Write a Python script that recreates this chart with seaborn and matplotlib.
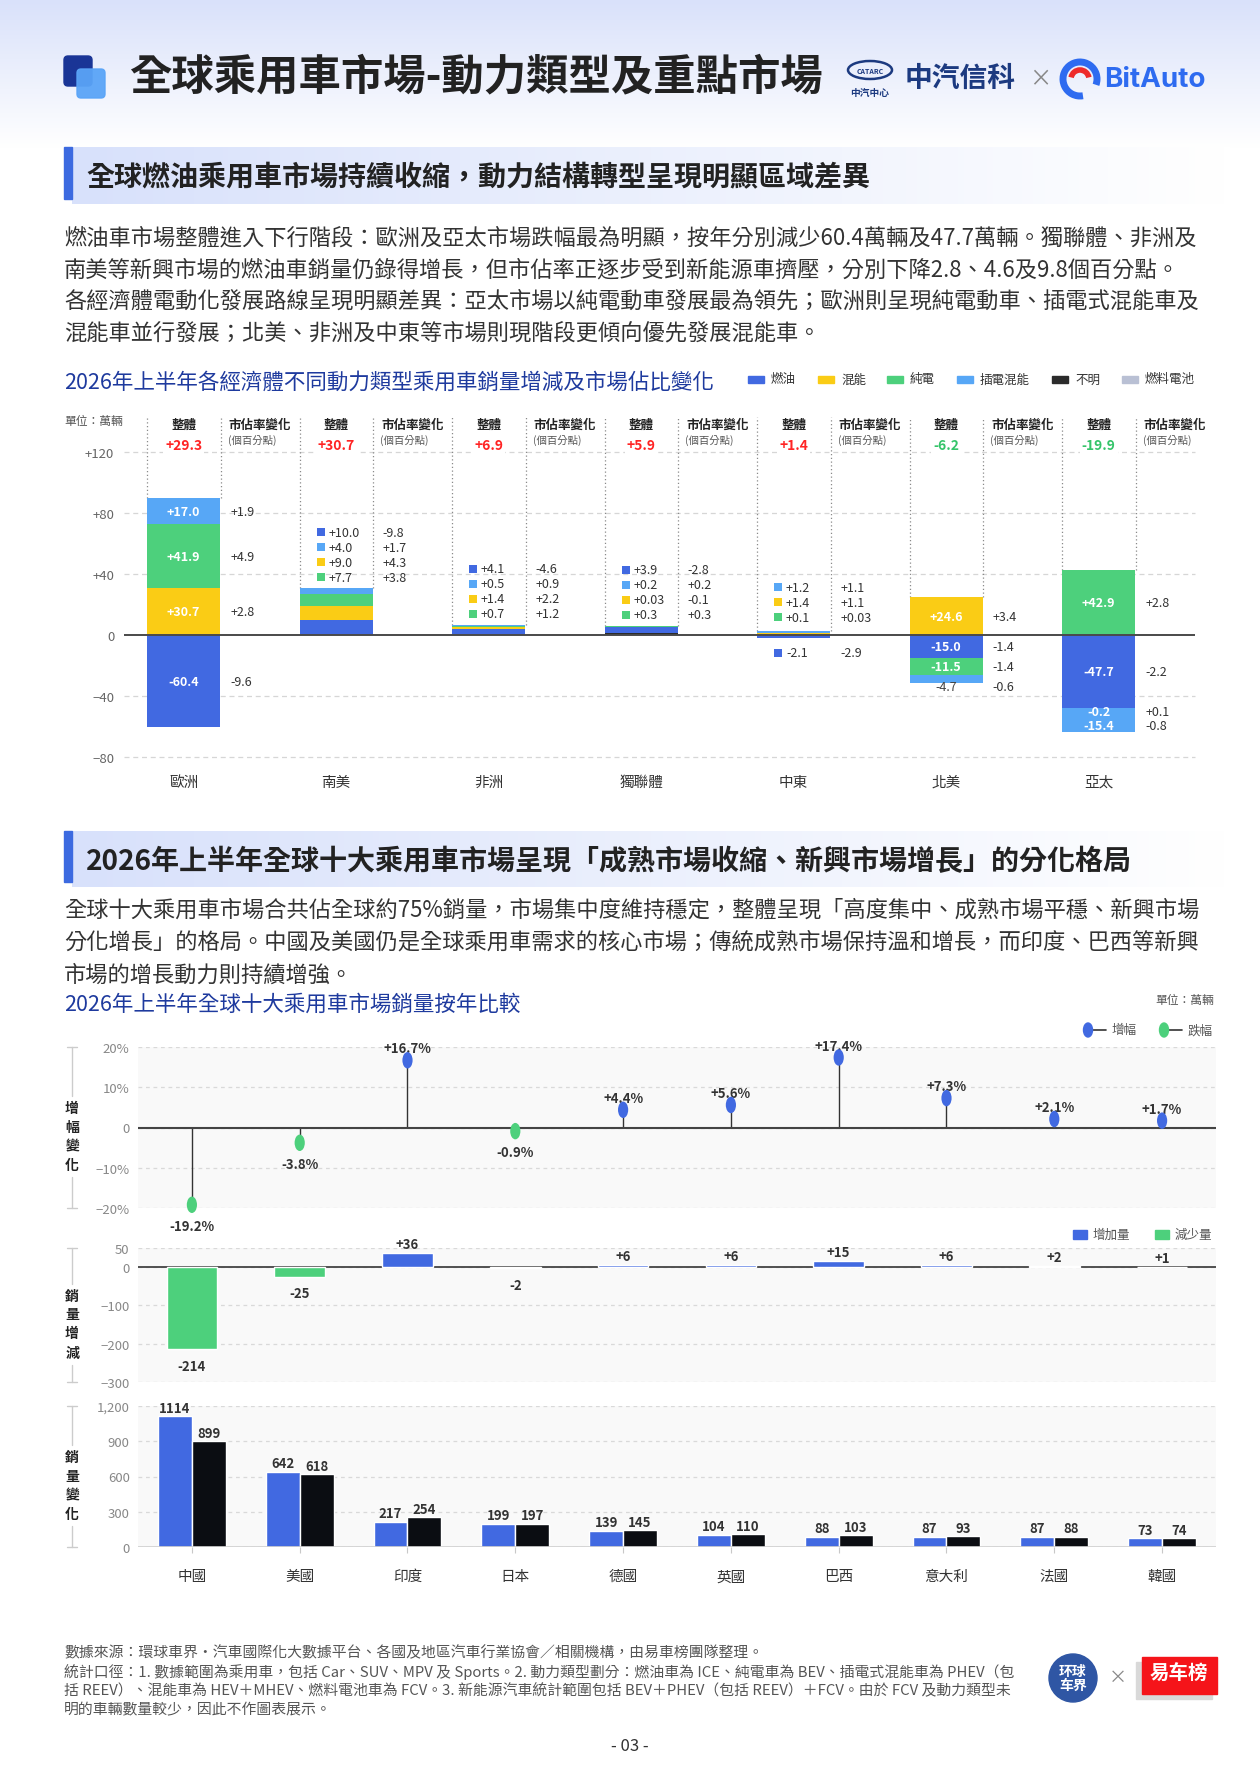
import numpy as np
import pandas as pd
import seaborn as sns
import matplotlib.pyplot as plt
from matplotlib.colors import LinearSegmentedColormap
from matplotlib.patches import Rectangle, FancyBboxPatch, Ellipse, Circle, Arc
from matplotlib.path import Path
from matplotlib.transforms import Affine2D

sns.set_theme(style="white")
plt.rcParams["font.family"] = ["Noto Sans CJK TC", "DejaVu Sans"]

# --- 圖一：各經濟體不同動力類型銷量增減（萬輛）與市佔率變化（個百分點）---
regions = ["歐洲", "南美", "非洲", "獨聯體", "中東", "北美", "亞太"]
total_change = [29.3, 30.7, 6.9, 5.9, 1.4, -6.2, -19.9]
ice_change = [-60.4, 10.0, 4.1, 3.9, -2.1, -15.0, -47.7]
hev_change = [30.7, 9.0, 1.4, 0.03, 1.4, 24.6, -0.2]
bev_change = [41.9, 7.7, 0.7, 0.3, 0.1, -11.5, 42.9]
phev_change = [17.0, 4.0, 0.5, 0.2, 1.2, -4.7, -15.4]
unknown_change = [0, 0, 0, 1.5, 0, 0, 0]
ice_share = [-9.6, -9.8, -4.6, -2.8, -2.9, -1.4, -2.2]
hev_share = [2.8, 4.3, 2.2, -0.1, 1.1, 3.4, 0.1]
bev_share = [4.9, 3.8, 1.2, 0.3, 0.03, -1.4, 2.8]
phev_share = [1.9, 1.7, 0.9, 0.2, 1.1, -0.6, -0.8]
legend_names = ["燃油", "混能", "純電", "插電混能", "不明", "燃料電池"]
c1_ticks = [-80, -40, 0, 40, 80, 120]

# --- 圖二：全球十大乘用車市場 ---
countries = ["中國", "美國", "印度", "日本", "德國", "英國", "巴西", "意大利", "法國", "韓國"]
growth_pct = [-19.2, -3.8, 16.7, -0.9, 4.4, 5.6, 17.4, 7.3, 2.1, 1.7]
volume_change = [-214, -25, 36, -2, 6, 6, 15, 6, 2, 1]
sales_2025 = [1114, 642, 217, 199, 139, 104, 88, 87, 87, 73]
sales_2026 = [899, 618, 254, 197, 145, 110, 103, 93, 88, 74]
years = ["2025年上半年", "2026年上半年"]

COLORS = {"燃油": "#4169e1", "混能": "#facc15", "純電": "#4dd07c",
          "插電混能": "#57a7f6", "不明": "#2b2b2b", "燃料電池": "#b9c0d4"}
BLACK = "#0b0d12"
NAVY = "#1e3a9e"
TXT = "#333333"

W, H = 1260, 1783
fig = plt.figure(figsize=(W / 100, H / 100), dpi=100)
fig.patch.set_facecolor("white")

# 背景層，用像素座標
bg = fig.add_axes([0, 0, 1, 1], zorder=0)
bg.axis("off")


def rect_px(x0, y0, x1, y1):
    return [x0 / W, 1 - y1 / H, (x1 - x0) / W, (y1 - y0) / H]


def ptext(x, y, s, **kw):
    kw.setdefault("va", "center")
    kw.setdefault("color", TXT)
    bg.text(x, y, s, **kw)


# 頁首漸層
top_cmap = LinearSegmentedColormap.from_list("top", ["#d9e1fa", "#ffffff"])
bg.imshow(np.linspace(0, 1, 100).reshape(-1, 1), extent=(0, W, 150, 0),
          cmap=top_cmap, aspect="auto", zorder=0)

bg.add_patch(FancyBboxPatch((64, 57), 28, 30, boxstyle="round,pad=0,rounding_size=4",
                            color="#1a3596", zorder=2))
bg.add_patch(FancyBboxPatch((77, 70), 28, 29, boxstyle="round,pad=0,rounding_size=4",
                            color="#5aa4f7", alpha=0.95, zorder=3))
ptext(129, 77, "全球乘用車市場-動力類型及重點市場", fontsize=30.5, fontweight="bold", color="#222222")

# logos
bg.add_patch(Ellipse((870, 71), 44, 18, fill=False, ec="#1c3a80", lw=1.8, zorder=2))
ptext(870, 71, "CATARC", fontsize=5, fontweight="bold", color="#1c3a80", ha="center")
ptext(870, 93, "中汽中心", fontsize=7, fontweight="bold", color="#1c3a80", ha="center")
ptext(905, 79, "中汽信科", fontsize=20, fontweight="bold", color="#1c3a80")
ptext(1040, 80, "×", fontsize=16, color="#888888", ha="center")
bg.add_patch(Arc((1080, 80), 34, 34, theta1=80, theta2=20, lw=5, color="#2e6bf0", zorder=2))
bg.add_patch(Arc((1080, 80), 18, 18, theta1=190, theta2=350, lw=4, color="#ee2a2a", zorder=2))
ptext(1104, 80, "BitAuto", fontsize=20, fontweight="bold", color="#2e6bf0", family=["Inter", "DejaVu Sans"])


def section_band(y0, y1, text):
    band_cmap = LinearSegmentedColormap.from_list("band", ["#d8e1fb", "#ffffff"])
    bg.imshow(np.linspace(0, 1, 200).reshape(1, -1), extent=(72, 1230, y1, y0),
              cmap=band_cmap, aspect="auto", zorder=1)
    bg.add_patch(Rectangle((64, y0), 8, y1 - y0 - 5, color="#3c6ae0", zorder=2))
    ptext(86, (y0 + y1) / 2 + 2, text, fontsize=20.2, fontweight="bold", color="#222222", zorder=3)


section_band(148, 205, "全球燃油乘用車市場持續收縮，動力結構轉型呈現明顯區域差異")
para1 = ["燃油車市場整體進入下行階段：歐洲及亞太市場跌幅最為明顯，按年分別減少60.4萬輛及47.7萬輛。獨聯體、非洲及",
         "南美等新興市場的燃油車銷量仍錄得增長，但市佔率正逐步受到新能源車擠壓，分別下降2.8、4.6及9.8個百分點。",
         "各經濟體電動化發展路線呈現明顯差異：亞太市場以純電動車發展最為領先；歐洲則呈現純電動車、插電式混能車及",
         "混能車並行發展；北美、非洲及中東等市場則現階段更傾向優先發展混能車。"]
for k, line in enumerate(para1):
    ptext(64, 238 + k * 31.7, line, fontsize=16)

ptext(64, 383, "2026年上半年各經濟體不同動力類型乘用車銷量增減及市場佔比變化", fontsize=15.5, color=NAVY)
for name, lx in zip(legend_names, [748, 818, 887, 957, 1052, 1122]):
    bg.add_patch(Rectangle((lx, 376.5), 16, 7, color=COLORS[name], zorder=2))
    ptext(lx + 23, 380, name, fontsize=9)
ptext(64, 421, "單位：萬輛", fontsize=8.5, color="#555555")

# ---------- 圖一 ----------
X0_PX, PITCH, ZERO_PX, PX_UNIT = 147, 152.5, 636, 1.525
BAR_W, SHARE_X, STEP, GAP = 0.48, 0.545, 9.8, 9.0


def c1x(px):
    return (px - X0_PX) / PITCH


def c1y(py):
    return (ZERO_PX - py) / PX_UNIT


ax0 = fig.add_axes(rect_px(124, 405, 1236, 805), zorder=2)
ax0.patch.set_alpha(0)

for v in c1_ticks:
    if v == 0:
        ax0.hlines(0, c1x(124), c1x(1195), colors="#4a4a4a", lw=1.4, zorder=4)
    else:
        ax0.hlines(v, c1x(124), c1x(1195), colors="#d6d6d6", linestyles=(0, (4, 3)), lw=0.9, zorder=0)

stack = [("不明", unknown_change, None), ("燃油", ice_change, ice_share),
         ("混能", hev_change, hev_share), ("純電", bev_change, bev_share),
         ("插電混能", phev_change, phev_share)]
n = len(regions)
segs = {i: [] for i in range(n)}
pos_base = np.zeros(n)
neg_base = np.zeros(n)
for name, vals, shares in stack:
    v = np.array(vals, dtype=float)
    bottom = np.where(v >= 0, pos_base, neg_base)
    ax0.bar(np.arange(n), v, width=BAR_W, bottom=bottom, align="edge",
            color=COLORS[name], linewidth=0, zorder=3)
    for i in range(n):
        if v[i] != 0 and shares is not None:
            lo, hi = sorted([bottom[i], bottom[i] + v[i]])
            segs[i].append({"name": name, "v": v[i], "share": shares[i], "lo": lo, "hi": hi})
    pos_base += np.clip(v, 0, None)
    neg_base += np.clip(v, None, 0)


def fmt(v):
    return f"{v:+.2f}" if abs(v) < 0.1 else f"{v:+.1f}"


def place_inside(i, items, sign):
    prev = None
    for s in items:
        if abs(s["v"]) >= 5:
            y = (s["lo"] + s["hi"]) / 2
        else:
            y = (s["hi"] if sign > 0 else s["lo"]) + sign * 2.5
        if prev is not None and sign * (y - prev) < GAP:
            y = prev + sign * GAP
        prev = y
        inside = any(t["lo"] <= y <= t["hi"] and abs(t["v"]) >= 5 for t in segs[i])
        ax0.text(i + BAR_W / 2, y, fmt(s["v"]), ha="center", va="center", fontsize=9,
                 color="white" if inside else "#444444",
                 fontweight="bold" if inside else "normal", zorder=5)
        ax0.text(i + SHARE_X, y, fmt(s["share"]), ha="left", va="center", fontsize=9,
                 color=TXT, zorder=5)


LIST_ORDER = ["燃油", "插電混能", "混能", "純電"]
for i in range(n):
    items = segs[i]
    if max(abs(s["v"]) for s in items) > 15:
        place_inside(i, sorted([s for s in items if s["v"] > 0], key=lambda s: s["lo"]), 1)
        place_inside(i, sorted([s for s in items if s["v"] < 0], key=lambda s: -s["hi"]), -1)
    else:
        items = sorted(items, key=lambda s: LIST_ORDER.index(s["name"]))
        ups = [s for s in items if s["v"] > 0]
        downs = [s for s in items if s["v"] < 0]
        ys = [max(pos_base[i], 4.5) + 7.3 + (len(ups) - 1 - k) * STEP for k in range(len(ups))]
        ys += [min(neg_base[i], -4.5) - 7.3 - k * STEP for k in range(len(downs))]
        for s, y in zip(ups + downs, ys):
            ax0.scatter(i + 0.14, y, marker="s", s=38, color=COLORS[s["name"]], linewidths=0, zorder=5)
            ax0.text(i + 0.19, y, fmt(s["v"]), ha="left", va="center", fontsize=9, color=TXT, zorder=5)
            ax0.text(i + SHARE_X, y, fmt(s["share"]), ha="left", va="center", fontsize=9, color=TXT, zorder=5)

    top = max(pos_base[i], 0)
    ax0.vlines([i, i + BAR_W + 0.005], top, c1y(418), colors="#8a8a8a",
               linestyles=(0, (1, 2)), linewidth=0.9, zorder=1)
    ax0.text(i + BAR_W / 2, c1y(425), "整體", ha="center", va="center", fontsize=9,
             fontweight="bold", color="#222222")
    ax0.text(i + BAR_W / 2, c1y(446), f"{total_change[i]:+.1f}", ha="center", va="center",
             fontsize=10, fontweight="bold",
             color="#ff2424" if total_change[i] > 0 else "#35c46a",
             bbox=dict(facecolor="white", edgecolor="none", pad=1.5), zorder=6)
    ax0.text(i + SHARE_X - 0.01, c1y(425), "市佔率變化", ha="left", va="center", fontsize=9,
             fontweight="bold", color="#222222")
    ax0.text(i + SHARE_X - 0.015, c1y(440), "(個百分點)", ha="left", va="center", fontsize=7.5,
             color="#555555")
    ax0.text(i + BAR_W / 2, c1y(783), regions[i], ha="center", va="center", fontsize=10.5, color=TXT)

ax0.set_xlim(c1x(124), c1x(1236))
ax0.set_ylim(c1y(805), c1y(405))
ax0.set_xticks([])
ax0.set_yticks(c1_ticks)
ax0.set_yticklabels([f"{t:+d}".replace("-", "−") if t != 0 else "0" for t in c1_ticks])
ax0.tick_params(axis="y", length=0, pad=7, labelsize=9.5, labelcolor="#666666")
sns.despine(ax=ax0, left=True, bottom=True)

# ---------- 第二部分文字 ----------
section_band(832, 888, "2026年上半年全球十大乘用車市場呈現「成熟市場收縮、新興市場增長」的分化格局")
para2 = ["全球十大乘用車市場合共佔全球約75%銷量，市場集中度維持穩定，整體呈現「高度集中、成熟市場平穩、新興市場",
         "分化增長」的格局。中國及美國仍是全球乘用車需求的核心市場；傳統成熟市場保持溫和增長，而印度、巴西等新興",
         "市場的增長動力則持續增強。"]
for k, line in enumerate(para2):
    ptext(64, 910 + k * 32.5, line, fontsize=16)
ptext(64, 1005, "2026年上半年全球十大乘用車市場銷量按年比較", fontsize=15.5, color=NAVY)
ptext(1214, 1001, "單位：萬輛", fontsize=8.5, color="#555555", ha="right")

# legends
for lx, col, lab in [(1088, COLORS["燃油"], "增幅"), (1164, COLORS["純電"], "跌幅")]:
    bg.add_patch(Ellipse((lx, 1031), 9, 14, color=col, zorder=3))
    bg.plot([lx + 4, lx + 18], [1031, 1031], color="#333333", lw=1.2, zorder=2)
    ptext(lx + 24, 1031, lab, fontsize=9, color="#555555")
for lx, col, lab in [(1073, COLORS["燃油"], "增加量"), (1155, COLORS["純電"], "減少量")]:
    bg.add_patch(Rectangle((lx, 1230.5), 14, 9, color=col, zorder=2))
    ptext(lx + 20, 1235, lab, fontsize=9, color="#555555")
for lx, col, lab in [(986, COLORS["燃油"], years[0]), (1111, BLACK, years[1])]:
    bg.add_patch(Rectangle((lx, 1416), 15, 10, color=col, zorder=2))
    ptext(lx + 20, 1421, lab, fontsize=9, color="#555555")


def side_label(chars, y_top, y_bot):
    yc = (y_top + y_bot) / 2 + 9
    half = (len(chars) - 1) * 19 / 2
    for k, ch in enumerate(chars):
        ptext(72, yc - half + k * 19, ch, fontsize=10, fontweight="bold", color="#222222", ha="center")
    for a, b in [(y_top, yc - half - 12), (yc + half + 12, y_bot)]:
        bg.plot([72, 72], [a, b], color="#cccccc", lw=1)
    for yy in (y_top, y_bot):
        bg.plot([67, 77], [yy, yy], color="#cccccc", lw=1)


side_label("增幅變化", 1048, 1209)
side_label("銷量增減", 1249, 1383)
side_label("銷量變化", 1407, 1548)


def style_panel(ax, ticks, labels):
    ax.set_facecolor("#f9f9f9")
    ax.set_xlim(-0.5, len(countries) - 0.5)
    ax.set_ylim(ticks[0], ticks[-1])
    ax.set_yticks(ticks)
    ax.set_yticklabels(labels)
    ax.yaxis.grid(True, linestyle=(0, (3, 3)), color="#d9d9d9", lw=0.9)
    ax.set_axisbelow(True)
    ax.tick_params(axis="y", length=0, pad=6, labelsize=9.5, labelcolor="#888888")
    ax.set_xlabel("")
    ax.set_ylabel("")
    sns.despine(ax=ax, left=True, bottom=True)


# 增幅變化（棒棒糖）
ax1 = fig.add_axes(rect_px(138, 1048, 1216, 1209), zorder=2)
df1 = pd.DataFrame({"country": countries, "growth": growth_pct})
df1["pos"] = np.arange(len(countries))
df1["trend"] = np.where(df1["growth"] >= 0, "增幅", "跌幅")
ax1.vlines(df1["pos"], 0, df1["growth"], colors="#333333", lw=1, zorder=2)
ell = Path.unit_circle().transformed(Affine2D().scale(0.62, 1.0))
sns.scatterplot(data=df1, x="pos", y="growth", hue="trend",
                palette={"增幅": COLORS["燃油"], "跌幅": COLORS["純電"]},
                marker=ell, s=140, linewidth=0, legend=False, ax=ax1, zorder=4, clip_on=False)
ax1.axhline(0, color="#444444", lw=1.5, zorder=3)
for p, g in zip(df1["pos"], df1["growth"]):
    ax1.annotate(f"{g:+.1f}%", (p, g), xytext=(0, 8.5 if g > 0 else -15), textcoords="offset points",
                 ha="center", va="center", fontsize=9.5, fontweight="bold", color=TXT)
style_panel(ax1, [-20, -10, 0, 10, 20], ["−20%", "−10%", "0", "10%", "20%"])
ax1.set_xticks([])

# 銷量增減
ax2 = fig.add_axes(rect_px(138, 1249, 1216, 1383), zorder=2)
df2 = pd.DataFrame({"country": countries, "change": volume_change})
df2["direction"] = np.where(df2["change"] >= 0, "增加量", "減少量")
ax2.axhline(0, color="#444444", lw=1.3, zorder=1.5)
sns.barplot(data=df2, x="country", y="change", hue="direction", hue_order=["增加量", "減少量"],
            palette={"增加量": COLORS["燃油"], "減少量": COLORS["純電"]}, dodge=False,
            width=0.47, saturation=1, legend=False, ax=ax2, zorder=2)
for i, v in enumerate(volume_change):
    ax2.annotate(f"{v:+d}" if v > 0 else f"{v:d}", (i, v), xytext=(0, 1.5 if v > 0 else -12),
                 textcoords="offset points", ha="center", va="bottom" if v > 0 else "center",
                 fontsize=9.5, fontweight="bold", color=TXT)
style_panel(ax2, [-300, -200, -100, 0, 50], ["−300", "−200", "−100", "0", "50"])
ax2.set_xticks([])

# 銷量變化
ax3 = fig.add_axes(rect_px(138, 1407, 1216, 1548), zorder=2)
df3 = pd.DataFrame({"country": countries * 2,
                    "year": [years[0]] * len(countries) + [years[1]] * len(countries),
                    "sales": sales_2025 + sales_2026})
sns.barplot(data=df3, x="country", y="sales", hue="year", hue_order=years,
            palette={years[0]: COLORS["燃油"], years[1]: BLACK}, width=0.63,
            saturation=1, legend=False, ax=ax3, zorder=2)
for c in ax3.containers:
    ax3.bar_label(c, fmt="%d", padding=1, fontsize=9.5, fontweight="bold", color=TXT)
ax3.axhline(0, color="#cfcfcf", lw=1.2, zorder=3)
style_panel(ax3, [0, 300, 600, 900, 1200], ["0", "300", "600", "900", "1,200"])
ax3.tick_params(axis="x", bottom=True, length=4, width=0.8, color="#c8c8c8", pad=12,
                labelsize=10.5, labelcolor=TXT)

# ---------- 頁尾 ----------
foot = ["數據來源：環球車界・汽車國際化大數據平台、各國及地區汽車行業協會／相關機構，由易車榜團隊整理。",
        "統計口徑：1. 數據範圍為乘用車，包括 Car、SUV、MPV 及 Sports。2. 動力類型劃分：燃油車為 ICE、純電車為 BEV、插電式混能車為 PHEV（包",
        "括 REEV）、混能車為 HEV＋MHEV、燃料電池車為 FCV。3. 新能源汽車統計範圍包括 BEV＋PHEV（包括 REEV）＋FCV。由於 FCV 及動力類型未",
        "明的車輛數量較少，因此不作圖表展示。"]
for k, line in enumerate(foot):
    ptext(64, 1653 + k * 19, line, fontsize=10.7, color="#555555")
ptext(630, 1747, "- 03 -", fontsize=12, ha="center")

bg.add_patch(Circle((1073, 1679), 24, color="#2f56a4", zorder=2))
ptext(1073, 1679, "环球\n车界", fontsize=10, fontweight="bold", color="white", ha="center",
      linespacing=1.0, zorder=3)
ptext(1118, 1678, "×", fontsize=13, color="#888888", ha="center")
bg.add_patch(Rectangle((1136, 1663), 76, 37, color="#d9d9d9", zorder=1))
bg.add_patch(Rectangle((1142, 1658), 75, 37, color="#f5141a", zorder=2))
ptext(1179, 1674, "易车榜", fontsize=14, fontweight="bold", color="white", ha="center", zorder=3)

bg.set_xlim(0, W)
bg.set_ylim(H, 0)

fig.savefig("out.png", dpi=100)
